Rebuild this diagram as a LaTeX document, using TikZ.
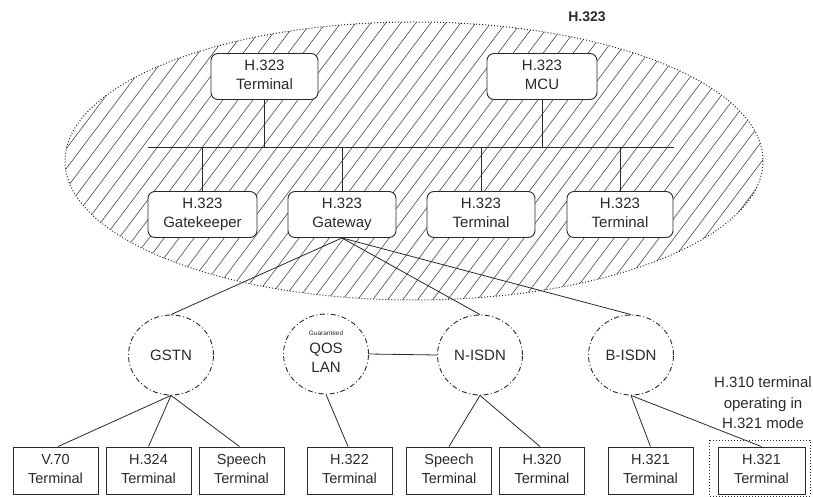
\documentclass[tikz,border=0pt]{standalone}
\usepackage{fontspec}
\setmainfont{Liberation Sans}
\usetikzlibrary{shapes.geometric}
\definecolor{ink}{HTML}{2A2A2A}
\newcommand\twol[2]{#1\strut\\#2\strut}
\tikzset{
  rbox/.style={draw=ink, line width=0.9pt, rounded corners=7pt, fill=white, minimum height=46pt,
    align=center, inner sep=0pt, text=ink, font=\fontsize{15}{19}\selectfont},
  tbox/.style={draw=ink, line width=0.9pt, fill=white, minimum width=85pt, minimum height=47pt,
    align=center, inner sep=0pt, text=ink, font=\fontsize{14.5}{19}\selectfont},
  net/.style={ellipse, draw=ink, line width=0.9pt, dash pattern=on 5pt off 2.5pt on 1pt off 2.5pt,
    minimum width=85pt, minimum height=80pt, inner sep=0pt, align=center, text=ink,
    font=\fontsize{15}{19}\selectfont},
  wire/.style={draw=ink, line width=0.8pt},
  hatch/.style={draw=ink!85, line width=0.6pt}
}
\begin{document}
\begin{tikzpicture}[x=1pt,y=-1pt]
\useasboundingbox (0,0) rectangle (813,497);
% hatched H.323 zone
\begin{scope}
  \clip (414,161) ellipse [x radius=349, y radius=139];
  \foreach \x in {-220,-205,...,800} {
    \draw[hatch] (\x,310) -- (\x+218,20);
  }
\end{scope}
\draw[ink, line width=1pt, dotted] (414,161) ellipse [x radius=349, y radius=139];
\node (title) at (587,17) [text=ink, font=\fontsize{14}{17}\selectfont\bfseries] {H.323};

% bus
\coordinate (busL) at (148,147);
\coordinate (busR) at (674,147);
\draw[wire] (busL) -- (busR);

% top row
\node (t1)  at (264.5,76.5) [rbox, minimum width=107pt] {\twol{H.323}{Terminal}};
\node (mcu) at (542,76.5)   [rbox, minimum width=110pt] {\twol{H.323}{MCU}};
% second row
\node (gk) at (202.5,214.5) [rbox, minimum width=109pt] {\twol{H.323}{Gatekeeper}};
\node (gw) at (342,214.5)   [rbox, minimum width=108pt] {\twol{H.323}{Gateway}};
\node (t2) at (481,214.5)   [rbox, minimum width=108pt] {\twol{H.323}{Terminal}};
\node (t3) at (620,214.5)   [rbox, minimum width=106pt] {\twol{H.323}{Terminal}};

\foreach \n in {t1,mcu} \draw[wire] (\n.south) -- (\n.south |- busL);
\foreach \n in {gk,gw,t2,t3} \draw[wire] (\n.north) -- (\n.north |- busL);

% networks
\node (gstn)  at (171,355) [net] {GSTN};
\node (qos)   at (326,354) [net] {{\fontsize{6.5}{8}\selectfont Guaranteed}\\[-1pt]QOS\strut\\LAN\strut};
\node (nisdn) at (480,355) [net] {N-ISDN};
\node (bisdn) at (631,355) [net] {B-ISDN};

\draw[wire] (gw.south) -- (gstn.north);
\draw[wire] (gw.south) -- (nisdn.north);
\draw[wire] (gw.south) -- (bisdn.north);
\draw[wire] (qos.east) -- (nisdn.west);

% terminals
\node (v70)   at (55.5,470.5)  [tbox] {\twol{V.70}{Terminal}};
\node (h324)  at (148.5,470.5) [tbox] {\twol{H.324}{Terminal}};
\node (sp1)   at (241.5,470.5) [tbox] {\twol{Speech}{Terminal}};
\node (h322)  at (349.5,470.5) [tbox] {\twol{H.322}{Terminal}};
\node (sp2)   at (449,470.5)   [tbox] {\twol{Speech}{Terminal}};
\node (h320)  at (542,470.5)   [tbox] {\twol{H.320}{Terminal}};
\node (h321a) at (650.5,470.5) [tbox] {\twol{H.321}{Terminal}};
\node (h321b) at (761.5,470.5) [tbox, minimum width=87pt] {\twol{H.321}{Terminal}};

\draw[ink, line width=1pt, dotted] (709,440) rectangle (810,496);

\draw[wire] (gstn.south) -- ([xshift=2.5pt]v70.north);
\draw[wire] (gstn.south) -- (h324.north);
\draw[wire] (gstn.south) -- ([xshift=-2pt]sp1.north);
\draw[wire] (qos.south) -- ([xshift=-1.5pt]h322.north);
\draw[wire] (nisdn.south) -- (sp2.north);
\draw[wire] (nisdn.south) -- ([xshift=-2pt]h320.north);
\draw[wire] (bisdn.south) -- (h321a.north);
\draw[wire] (bisdn.south) -- (h321b.north);

\node (note) at (763,403) [align=center, text=ink, font=\fontsize{15}{20.5}\selectfont] {H.310 terminal\\operating in\\H.321 mode};
\end{tikzpicture}
\end{document}
